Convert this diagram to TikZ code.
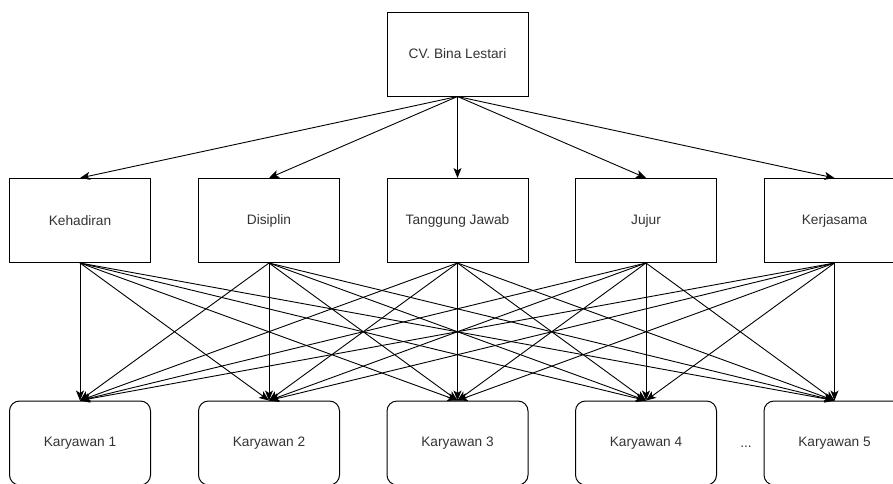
\documentclass[tikz,border=0pt]{standalone}
\usepackage{fontspec}
\setmainfont{Liberation Sans}
\usepackage{tikz}
\usetikzlibrary{arrows.meta}
\tikzset{
  kotak/.style={draw=black, line width=1pt, minimum width=141pt, minimum height=84pt, inner sep=0pt, text=black!80, font=\fontsize{13.7}{16}\selectfont},
  karyawan/.style={kotak, rounded corners=10pt},
  panah/.style={line width=0.9pt, -{Stealth[length=10pt,width=8pt,inset=2.5pt]}}
}
\newcommand{\fanout}[1]{ \draw[panah] (#1.south) -- (k1.north); \draw[panah] (#1.south) -- (k2.north); \draw[panah] (#1.south) -- (k3.north); \draw[panah] (#1.south) -- (k4.north); \draw[panah] (#1.south) -- (k5.north);}
\begin{document}
\begin{tikzpicture}[x=1pt,y=-1pt]
        \useasboundingbox (0,0) rectangle (893,483);
        % top
        \node[kotak] (cv) at (457.5,54) {CV. Bina Lestari};
        % criteria
        \node[kotak] (kehadiran) at (80,220.5) {Kehadiran};
        \node[kotak] (disiplin) at (269,220.5) {Disiplin};
        \node[kotak] (tanggung) at (457.5,220.5) {Tanggung Jawab};
        \node[kotak] (jujur) at (646,220.5) {Jujur};
        \node[kotak] (kerjasama) at (834.5,220.5) {Kerjasama};
        % employees
        \node[karyawan] (k1) at (80,443) {Karyawan 1};
        \node[karyawan] (k2) at (269,443) {Karyawan 2};
        \node[karyawan] (k3) at (457.5,443) {Karyawan 3};
        \node[karyawan] (k4) at (646,443) {Karyawan 4};
        \node[karyawan] (k5) at (834.5,443) {Karyawan 5};
        \node[text=black!80, font=\fontsize{13.7}{16}\selectfont] (dots) at (746,447) {...};

        % top to criteria
        \draw[panah] (cv.south) -- (kehadiran.north);
        \draw[panah] (cv.south) -- (disiplin.north);
        \draw[panah] (cv.south) -- (tanggung.north);
        \draw[panah] (cv.south) -- (jujur.north);
        \draw[panah] (cv.south) -- (kerjasama.north);

        % criteria to employees
        \fanout{kehadiran}
        \fanout{disiplin}
        \fanout{tanggung}
        \fanout{jujur}
        \fanout{kerjasama}
    \end{tikzpicture}
\end{document}
